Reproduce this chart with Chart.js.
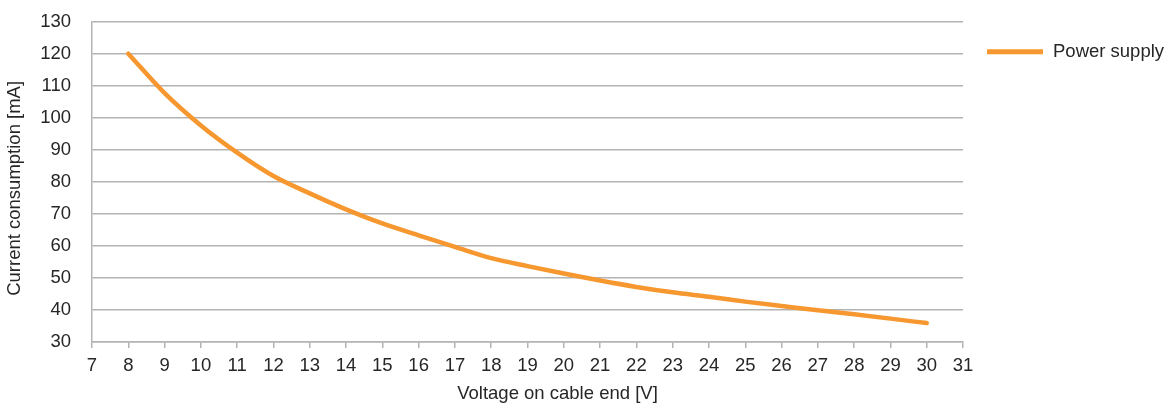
<!DOCTYPE html>
<html>
<head>
<meta charset="utf-8">
<script src="https://cdn.jsdelivr.net/npm/chart.js@4"></script>
<style>
  html, body { margin: 0; padding: 0; background: #fff; }
  #wrap { width: 1169px; height: 405px; position: relative; }
</style>
</head>
<body>
<div id="wrap"><canvas id="powerChart"></canvas></div>
<script>
// values
const voltage = [8, 9, 10, 11, 12, 13, 14, 15, 16, 17, 18, 19, 20, 21, 22, 23, 24, 25, 26, 27, 28, 29, 30];
const current = [120, 107.7, 97.6, 89.1, 81.8, 76.4, 71.4, 67.0, 63.3, 59.7, 56.2, 53.7, 51.4, 49.2, 47.2, 45.5, 44.1, 42.6, 41.25, 39.9, 38.65, 37.3, 35.9];
const seriesName = 'Power supply';
const xTitle = 'Voltage on cable end [V]';
const yTitle = 'Current consumption [mA]';

const orange = '#f7972f';
const gridGrey = '#b3b3b3';
const textColor = '#262626';
const font = { family: '"Liberation Sans", Arial, sans-serif', size: 18.5 };
const fontStr = font.size + 'px ' + font.family;

// legend in the right margin + axis titles (the source chart sets them a bit off-centre)
const sideLabels = {
    id: 'sideLabels',
    afterDraw(chart) {
        const ctx = chart.ctx;
        const area = chart.chartArea;
        const ds = chart.data.datasets[0];
        ctx.save();
        ctx.font = fontStr;
        ctx.fillStyle = textColor;

        // legend
        const ly = area.top + 30;
        const lx = area.right + 24;
        ctx.strokeStyle = ds.borderColor;
        ctx.lineWidth = 5;
        ctx.beginPath();
        ctx.moveTo(lx, ly);
        ctx.lineTo(lx + 56, ly);
        ctx.stroke();
        ctx.textAlign = 'left';
        ctx.textBaseline = 'middle';
        ctx.fillText(ds.label, lx + 66, ly);

        // x title
        ctx.textAlign = 'center';
        ctx.fillText(xTitle, (area.left + area.right) / 2 + 30, 394);

        // y title
        ctx.translate(15, (area.top + area.bottom) / 2 + 6.5);
        ctx.rotate(-Math.PI / 2);
        ctx.fillText(yTitle, 0, 0);
        ctx.restore();
    }
};

new Chart(document.getElementById('powerChart'), {
    type: 'line',
    data: {
        datasets: [{
            label: seriesName,
            data: voltage.map((v, i) => ({ x: v, y: current[i] })),
            borderColor: orange,
            backgroundColor: orange,
            borderWidth: 4.5,
            borderCapStyle: 'round',
            pointRadius: 0,
            tension: 0.4,
            cubicInterpolationMode: 'monotone'
        }]
    },
    options: {
        responsive: true,
        maintainAspectRatio: false,
        animation: false,
        layout: { padding: { top: 21.7, right: 206, bottom: 0, left: 0 } },
        plugins: {
            legend: { display: false },
            tooltip: { enabled: false }
        },
        scales: {
            x: {
                type: 'linear',
                min: 7,
                max: 31,
                ticks: { stepSize: 1, color: textColor, font: font, padding: 7, maxRotation: 0 },
                grid: { drawOnChartArea: false, drawTicks: true, tickLength: 6, color: gridGrey, lineWidth: 1.5 },
                border: { color: gridGrey, width: 1.5 },
                afterFit(scale) { scale.height = 63; }
            },
            y: {
                min: 30,
                max: 130,
                ticks: { stepSize: 10, color: textColor, font: font, padding: 4 },
                grid: { color: gridGrey, lineWidth: 1.5, drawTicks: true, tickLength: 17, tickColor: 'rgba(0,0,0,0)' },
                border: { color: gridGrey, width: 1.5 },
                afterFit(scale) { scale.width = 92; }
            }
        }
    },
    plugins: [sideLabels]
});
</script>
</body>
</html>
